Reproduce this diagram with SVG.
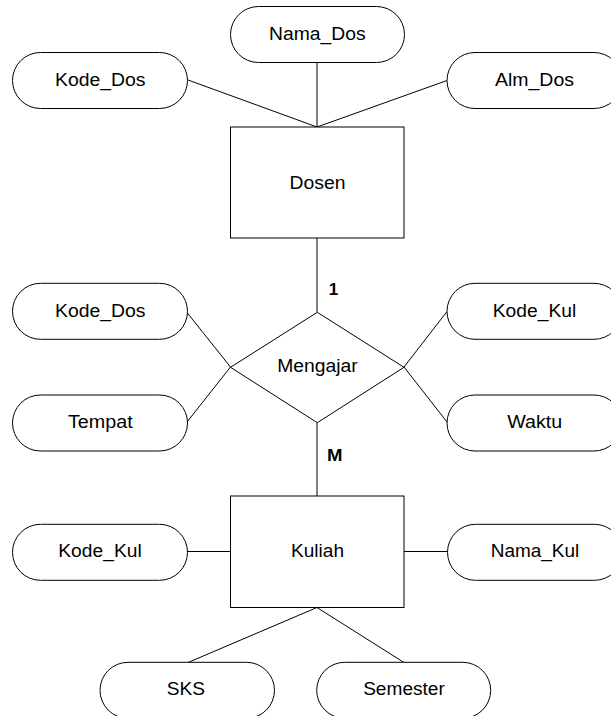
<svg xmlns="http://www.w3.org/2000/svg" width="611" height="716" viewBox="0 0 611 716">
  <style>
    .shape { fill: #ffffff; stroke: #000000; stroke-width: 1; }
    .link { stroke: #000000; stroke-width: 1; fill: none; }
    .label { font-family: "Liberation Sans", Arial, sans-serif; font-size: 17.5px; fill: #000000; text-anchor: middle; }
    .card { font-family: "Liberation Sans", Arial, sans-serif; font-size: 17px; font-weight: bold; fill: #000000; text-anchor: middle; }
  </style>
  <rect x="0" y="0" width="611" height="716" fill="#ffffff"/>

  <!-- connectors -->
  <g id="connectors">
    <line class="link" x1="188" y1="80" x2="317" y2="127"/>
    <line class="link" x1="317" y1="62" x2="317" y2="127" stroke-width="2"/>
    <line class="link" x1="447" y1="80.5" x2="317" y2="127"/>
    <line class="link" x1="317" y1="238" x2="317" y2="312"/>
    <line class="link" x1="187" y1="312.5" x2="230.5" y2="367"/>
    <line class="link" x1="187" y1="422" x2="230.5" y2="367"/>
    <line class="link" x1="447" y1="311.5" x2="404" y2="367"/>
    <line class="link" x1="447" y1="422" x2="404" y2="367"/>
    <line class="link" x1="317" y1="422.5" x2="317" y2="496"/>
    <line class="link" x1="187" y1="551.5" x2="230.5" y2="551.5"/>
    <line class="link" x1="404" y1="551.5" x2="447.5" y2="551.5"/>
    <line class="link" x1="317" y1="607.5" x2="188" y2="662.5"/>
    <line class="link" x1="317" y1="607.5" x2="404" y2="662.5"/>
    <text class="card" x="333.5" y="295" textLength="9.5" lengthAdjust="spacingAndGlyphs">1</text>
    <text class="card" x="334.8" y="461" textLength="15.5" lengthAdjust="spacingAndGlyphs">M</text>
  </g>

  <!-- Dosen entity and its attributes -->
  <g id="dosen">
    <rect class="shape" x="230.5" y="127" width="173.5" height="111"/>
    <text class="label" x="317.5" y="188.5" textLength="56" lengthAdjust="spacingAndGlyphs">Dosen</text>
  </g>
  <g id="attr-nama-dos">
    <rect class="shape" x="230.5" y="6.5" width="174" height="56" rx="28" ry="28"/>
    <text class="label" x="317.3" y="39.5" textLength="96.5" lengthAdjust="spacingAndGlyphs">Nama_Dos</text>
  </g>
  <g id="attr-kode-dos-1">
    <rect class="shape" x="12.5" y="52.5" width="175" height="56" rx="28" ry="28"/>
    <text class="label" x="100.3" y="86" textLength="90.5" lengthAdjust="spacingAndGlyphs">Kode_Dos</text>
  </g>
  <g id="attr-alm-dos">
    <rect class="shape" x="447" y="52.5" width="175" height="56" rx="28" ry="28"/>
    <text class="label" x="534.5" y="86" textLength="79" lengthAdjust="spacingAndGlyphs">Alm_Dos</text>
  </g>

  <!-- Mengajar relationship and its attributes -->
  <g id="mengajar">
    <polygon class="shape" points="317.3,312.3 404,367.3 317.3,422.7 230.5,367.3"/>
    <text class="label" x="317.5" y="371.7" textLength="80.5" lengthAdjust="spacingAndGlyphs">Mengajar</text>
  </g>
  <g id="attr-kode-dos-2">
    <rect class="shape" x="12.5" y="283.3" width="175" height="56" rx="28" ry="28"/>
    <text class="label" x="100.3" y="317.3" textLength="90.5" lengthAdjust="spacingAndGlyphs">Kode_Dos</text>
  </g>
  <g id="attr-tempat">
    <rect class="shape" x="12.5" y="395" width="175" height="56" rx="28" ry="28"/>
    <text class="label" x="100.3" y="428.3" textLength="64.7" lengthAdjust="spacingAndGlyphs">Tempat</text>
  </g>
  <g id="attr-kode-kul-1">
    <rect class="shape" x="447" y="283.3" width="175" height="56" rx="28" ry="28"/>
    <text class="label" x="534.5" y="317.3" textLength="83.5" lengthAdjust="spacingAndGlyphs">Kode_Kul</text>
  </g>
  <g id="attr-waktu">
    <rect class="shape" x="447" y="395" width="175" height="56" rx="28" ry="28"/>
    <text class="label" x="534.7" y="428.3" textLength="55" lengthAdjust="spacingAndGlyphs">Waktu</text>
  </g>

  <!-- Kuliah entity and its attributes -->
  <g id="kuliah">
    <rect class="shape" x="230.5" y="496" width="173.5" height="111.5"/>
    <text class="label" x="317.5" y="556.8" textLength="53" lengthAdjust="spacingAndGlyphs">Kuliah</text>
  </g>
  <g id="attr-kode-kul-2">
    <rect class="shape" x="12.5" y="524.3" width="175" height="56" rx="28" ry="28"/>
    <text class="label" x="100" y="557" textLength="83.4" lengthAdjust="spacingAndGlyphs">Kode_Kul</text>
  </g>
  <g id="attr-nama-kul">
    <rect class="shape" x="447.5" y="524.3" width="175" height="56" rx="28" ry="28"/>
    <text class="label" x="535" y="556.8" textLength="88.6" lengthAdjust="spacingAndGlyphs">Nama_Kul</text>
  </g>
  <g id="attr-sks">
    <rect class="shape" x="100" y="662.3" width="174.5" height="56" rx="28" ry="28"/>
    <text class="label" x="186" y="695" textLength="38.3" lengthAdjust="spacingAndGlyphs">SKS</text>
  </g>
  <g id="attr-semester">
    <rect class="shape" x="316.7" y="662.3" width="174" height="56" rx="28" ry="28"/>
    <text class="label" x="404" y="695" textLength="81.7" lengthAdjust="spacingAndGlyphs">Semester</text>
  </g>
</svg>
